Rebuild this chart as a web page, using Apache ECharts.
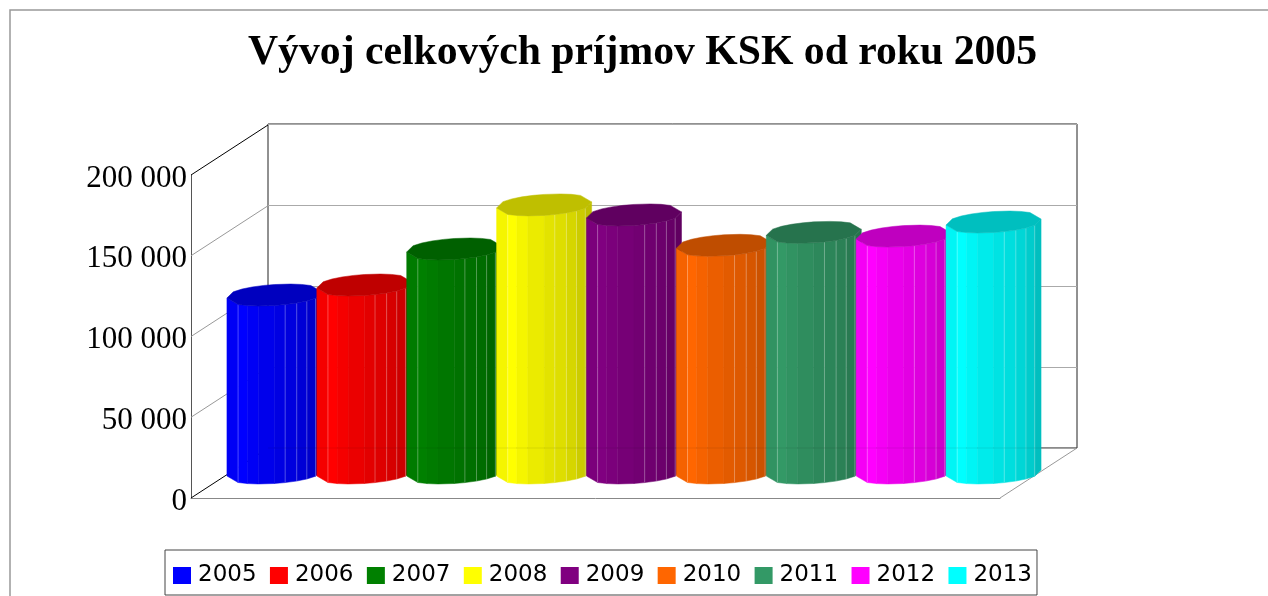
<!DOCTYPE html>
<html>
<head>
<meta charset="utf-8">
<title>Vývoj celkových príjmov KSK od roku 2005</title>
<script src="https://cdn.jsdelivr.net/npm/echarts@6/dist/echarts.min.js"></script>
<style>
  html, body { margin: 0; background: #fff; }
  #chart { width: 1268px; height: 596px; }
</style>
</head>
<body>
<div id="chart"></div>
<script>
const years = ['2005', '2006', '2007', '2008', '2009', '2010', '2011', '2012', '2013']
const incomes = [110200, 116400, 138700, 166000, 159800, 141000, 149000, 146700, 155400]
const colors = ['#0000ff', '#ff0000', '#008000', '#ffff00', '#800080', '#ff6600', '#339966', '#ff00ff', '#00ffff']
const wallTicks = [0, 50000, 100000, 150000, 200000]

// oblique projection of the fake 3D box, front plane -> back plane
const DEPTH_X = 77
const DEPTH_Y = -50

// cylinder facets, angle in degrees going left to right along the front
const facetAngles = [180, 140, 125, 110, 90, 77, 62, 47, 30, 0]
const facetShades = [0.96, 1, 0.96, 0.92, 0.89, 0.87, 0.84, 0.8, 0.75]
const facetSeams = [1, 5, 6, 7, 8]

function shade (hex, k) {
  const n = parseInt(hex.slice(1), 16)
  const r = Math.round((n >> 16 & 255) * k)
  const g = Math.round((n >> 8 & 255) * k)
  const b = Math.round((n & 255) * k)
  return 'rgb(' + r + ',' + g + ',' + b + ')'
}

function rimPoint (cx, cy, rx, angle) {
  const t = angle * Math.PI / 180
  const s = Math.sin(t)
  // slightly boxy and sheared, the original cylinder is not a clean ellipse
  const lift = Math.sign(s) * Math.pow(Math.abs(s), 0.85)
  return [cx + rx * Math.cos(t), cy + 10.5 * lift - 3 * Math.cos(t)]
}

function renderCylinder (params, api) {
  const color = api.visual('color')
  const top = api.coord([api.value(0), api.value(1)])
  const base = api.coord([api.value(0), 0])
  const rx = api.size([1, 0])[0] * 1.057 / 2
  const cx = top[0] + DEPTH_X / 2
  const topY = top[1] + DEPTH_Y / 2
  const baseY = base[1] + DEPTH_Y / 2
  const children = []
  facetShades.forEach((k, i) => {
    const a = rimPoint(cx, topY, rx, facetAngles[i])
    const b = rimPoint(cx, topY, rx, facetAngles[i + 1])
    const c = rimPoint(cx, baseY, rx, facetAngles[i + 1])
    const d = rimPoint(cx, baseY, rx, facetAngles[i])
    const fill = shade(color, k)
    children.push({
      type: 'polygon',
      shape: { points: [a, b, c, d] },
      style: { fill: fill, stroke: fill, lineWidth: 0.5 }
    })
  })
  facetSeams.forEach(i => {
    const a = rimPoint(cx, topY, rx, facetAngles[i])
    const d = rimPoint(cx, baseY, rx, facetAngles[i])
    children.push({
      type: 'line',
      shape: { x1: a[0], y1: a[1], x2: d[0], y2: d[1] },
      style: { stroke: 'rgba(255,255,255,0.28)', lineWidth: 1 }
    })
  })
  const lid = facetAngles.concat(facetAngles.slice(1, -1).map(a => a + 180))
    .map(a => rimPoint(cx, topY, rx, a))
  const lidFill = shade(color, 0.75)
  children.push({
    type: 'polygon',
    shape: { points: lid },
    style: { fill: lidFill, stroke: lidFill, lineWidth: 0.5 }
  })
  return { type: 'group', children: children }
}

function renderWallLine (params, api) {
  const value = api.value(0)
  const p = api.coord([0, value])
  const left = p[0] - api.size([1, 0])[0] / 2
  const isEdge = value === 0 || value === 200000
  return {
    type: 'line',
    shape: { x1: left, y1: p[1], x2: left + DEPTH_X, y2: p[1] + DEPTH_Y },
    style: { stroke: isEdge ? '#000' : '#999', lineWidth: 1 }
  }
}

function renderFloorEdge (params, api) {
  const right = api.coord([years.length - 1, 0])
  const edge = right[0] + api.size([1, 0])[0] / 2
  return {
    type: 'line',
    shape: { x1: edge, y1: right[1], x2: edge + DEPTH_X, y2: right[1] + DEPTH_Y },
    style: { stroke: '#999', lineWidth: 1 }
  }
}

// the back edge of the floor shows faintly through the cylinders
function renderFloorSeam (params, api) {
  const p0 = api.coord([0, 0])
  const p1 = api.coord([years.length - 1, 0])
  const half = api.size([1, 0])[0] / 2
  return {
    type: 'line',
    shape: {
      x1: p0[0] - half + DEPTH_X,
      y1: p0[1] + DEPTH_Y,
      x2: p1[0] + half + DEPTH_X,
      y2: p1[1] + DEPTH_Y
    },
    style: { stroke: 'rgba(0,0,0,0.08)', lineWidth: 1 }
  }
}

const chart = echarts.init(document.getElementById('chart'), null, { renderer: 'canvas' })

const cylinderSeries = years.map((year, i) => ({
  name: year,
  type: 'custom',
  coordinateSystem: 'cartesian2d',
  xAxisIndex: 0,
  yAxisIndex: 0,
  clip: false,
  silent: true,
  z: 5,
  itemStyle: { color: colors[i] },
  renderItem: renderCylinder,
  encode: { x: 0, y: 1 },
  data: [[i, incomes[i]]]
}))

const boxSeries = (name, z, renderItem, data) => ({
  name: name,
  type: 'custom',
  coordinateSystem: 'cartesian2d',
  xAxisIndex: 0,
  yAxisIndex: 0,
  clip: false,
  silent: true,
  z: z,
  renderItem: renderItem,
  encode: { y: 0 },
  data: data
})

chart.setOption({
  animation: false,
  backgroundColor: '#fff',
  title: {
    text: 'Vývoj celkových príjmov KSK od roku 2005',
    left: 248,
    top: 32,
    padding: 0,
    textStyle: {
      fontFamily: 'Liberation Serif',
      fontSize: 41.7,
      fontWeight: 'bold',
      color: '#000'
    }
  },
  legend: {
    left: 165,
    top: 550,
    padding: [14, 5, 8, 8],
    icon: 'rect',
    itemWidth: 18,
    itemHeight: 17,
    itemGap: 13.4,
    borderColor: '#444',
    borderWidth: 1,
    backgroundColor: '#fff',
    selectedMode: false,
    data: years,
    textStyle: {
      fontFamily: 'DejaVu Sans',
      fontSize: 23,
      color: '#000',
      padding: [0, 0, 0, 2]
    }
  },
  grid: [
    { left: 191, top: 175, width: 809, height: 323 },
    { left: 268, top: 124, width: 809, height: 324, show: true, borderColor: '#222', borderWidth: 1, backgroundColor: 'transparent' }
  ],
  xAxis: [
    {
      type: 'category',
      data: years,
      gridIndex: 0,
      axisLabel: { show: false },
      axisTick: { show: false },
      axisLine: { show: true, lineStyle: { color: '#888', width: 1 } }
    },
    { type: 'category', data: years, gridIndex: 1, show: false }
  ],
  yAxis: [
    {
      type: 'value',
      gridIndex: 0,
      min: 0,
      max: 200000,
      interval: 50000,
      splitLine: { show: false },
      axisTick: { show: false },
      axisLine: { show: true, lineStyle: { color: '#555', width: 1 } },
      axisLabel: {
        margin: 4,
        fontFamily: 'Liberation Serif',
        fontSize: 31,
        color: '#000',
        formatter: v => '{tick|' + String(v).replace(/\B(?=(\d{3})+$)/g, ' ') + '}',
        rich: {
          tick: {
            fontFamily: 'Liberation Serif',
            fontSize: 31,
            color: '#000',
            padding: [7, 0, 0, 0]
          }
        }
      }
    },
    {
      type: 'value',
      gridIndex: 1,
      min: 0,
      max: 200000,
      interval: 50000,
      axisLine: { show: false },
      axisTick: { show: false },
      axisLabel: { show: false },
      splitLine: { show: true, lineStyle: { color: '#aaa', width: 1 } }
    }
  ],
  series: [
    boxSeries('walls', 1, renderWallLine, wallTicks.map(v => [v])),
    boxSeries('floor', 1, renderFloorEdge, [[0]]),
    boxSeries('seam', 6, renderFloorSeam, [[0]])
  ].concat(cylinderSeries),
  graphic: [
    {
      type: 'polyline',
      silent: true,
      z: 0,
      shape: { points: [[10, 600], [10, 10], [1272, 10]] },
      style: { fill: 'none', stroke: '#999', lineWidth: 1.5 }
    }
  ]
})
</script>
</body>
</html>
